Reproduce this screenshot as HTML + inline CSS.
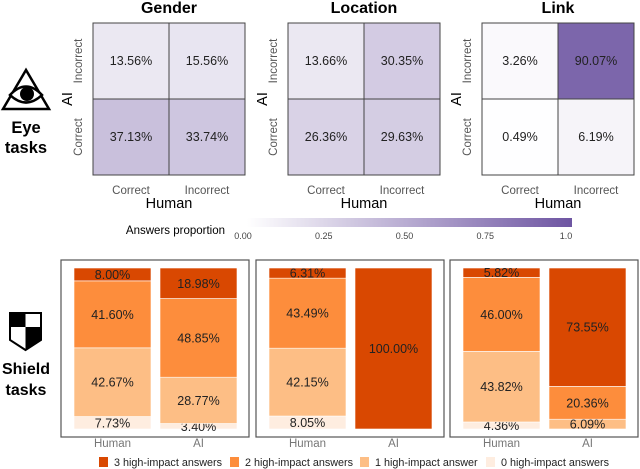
<!DOCTYPE html>
<html><head><meta charset="utf-8"><style>
body{margin:0;background:#fff}
svg{display:block;font-family:"Liberation Sans",sans-serif}
</style></head><body>
<svg id="c" width="640" height="469" viewBox="0 0 640 469">
<g>
<polygon points="26,70 3,109 49,109" fill="none" stroke="#000" stroke-width="2.5"/>
<path d="M10,95 Q26,78 42,95 Q26,110 10,95Z" fill="#fff" stroke="#000" stroke-width="2.5"/>
<circle cx="27" cy="94" r="7" fill="#000"/>
</g>
<text x="26" y="133" text-anchor="middle" font-size="16.5" font-weight="bold"><tspan x="26">Eye</tspan><tspan x="26" dy="20">tasks</tspan></text>
<g>
<path d="M10,313 H41 V340 L25.5,350 L10,340Z" fill="#fff" stroke="#000" stroke-width="2"/>
<rect x="10" y="313" width="15.5" height="14" fill="#000"/>
<path d="M25.5,327 H41 V340 L25.5,350Z" fill="#000"/>
</g>
<text x="26" y="374" text-anchor="middle" font-size="16" font-weight="bold"><tspan x="26">Shield</tspan><tspan x="26" dy="21">tasks</tspan></text>
<g id="heat"></g>
<g id="cbar"></g>
<g id="bars"></g>
<g id="legend"></g>
</svg>
<script>
const heatTitles=["Gender","Location","Link"];
const heatAxisLabels=["Correct","Incorrect"];
// [AI incorrect/human correct, AI incorrect/human incorrect, AI correct/human correct, AI correct/human incorrect]
const heatGender=[13.56,15.56,37.13,33.74];
const heatLocation=[13.66,30.35,26.36,29.63];
const heatLink=[3.26,90.07,0.49,6.19];
const cbarTicks=[0,0.25,0.5,0.75,1.0];
const cbarTickLabels=["0.00","0.25","0.50","0.75","1.0"];
const barGroups=["Human","AI"];
const seriesNames=["3 high-impact answers","2 high-impact answers","1 high-impact answer","0 high-impact answers"];
// bottom-to-top: 0,1,2,3
const genderHuman=[7.73,42.67,41.60,8.00];
const genderAI=[3.40,28.77,48.85,18.98];
const locationHuman=[8.05,42.15,43.49,6.31];
const locationAI=[0,0,0,100.00];
const linkHuman=[4.36,43.82,46.00,5.82];
const linkAI=[0,6.09,20.36,73.55];

const NS="http://www.w3.org/2000/svg";
function mk(p,t,a,txt){const e=document.createElementNS(NS,t);for(const k in a)e.setAttribute(k,a[k]);if(txt!=null)e.textContent=txt;p.appendChild(e);return e;}
function purple(v){const a=[255,255,255],b=[110,85,162];return `rgb(${a.map((x,i)=>Math.round(x+(b[i]-x)*v)).join(",")})`;}

const heat=document.getElementById('heat');
const heatX=[93,288,482],hy=23,cs=76;
[heatGender,heatLocation,heatLink].forEach((d,p)=>{
  const x0=heatX[p];
  const t=mk(heat,'text',{x:x0+cs,y:13,'text-anchor':'middle','font-size':16,'font-weight':'bold'},heatTitles[p]);
  
  
  d.forEach((v,i)=>{
    const cx=x0+(i%2)*cs, cy=hy+Math.floor(i/2)*cs;
    const r=mk(heat,'rect',{x:cx,y:cy,width:cs,height:cs,fill:purple(v/100),stroke:'#444','stroke-width':1});
    
    
    const tt=mk(heat,'text',{x:cx+cs/2,y:cy+cs/2+4,'text-anchor':'middle','font-size':12.5,fill:'#222'},v.toFixed(2)+'%');
    
    
  });
  heatAxisLabels.forEach((l,i)=>{
    const xt=mk(heat,'text',{x:x0+cs/2+i*cs,y:194,'text-anchor':'middle','font-size':11.5,fill:'#555'},l);
    
    
    const yc=hy+cs/2+(1-i)*cs;
    const yt=mk(heat,'text',{x:0,y:0,'text-anchor':'middle','font-size':11.5,fill:'#555',transform:`translate(${x0-11},${yc}) rotate(-90)`},l);
    
    
  });
  const xl=mk(heat,'text',{x:x0+cs,y:208,'text-anchor':'middle','font-size':14.5},'Human');
  
  
  const yl=mk(heat,'text',{x:0,y:0,'text-anchor':'middle','font-size':14.5,transform:`translate(${x0-21},${hy+cs}) rotate(-90)`},'AI');
  
  
});

const cb=document.getElementById('cbar');
const defs=mk(cb,'defs',{});
const lg=mk(defs,'linearGradient',{id:'pg',x1:0,x2:1,y1:0,y2:0});
mk(lg,'stop',{offset:0,'stop-color':purple(0)});mk(lg,'stop',{offset:1,'stop-color':purple(1)});
const cbx0=247,cbx1=572;
const cr=mk(cb,'rect',{x:cbx0,y:218,width:cbx1-cbx0,height:9,fill:'url(#pg)'});


const cl=mk(cb,'text',{x:225,y:234,'text-anchor':'end','font-size':11.5},'Answers proportion');


cbarTicks.forEach((v,i)=>{
  const t=mk(cb,'text',{x:cbx0-4+v*(cbx1-cbx0-2),y:239,'text-anchor':'middle','font-size':9,fill:'#444'},cbarTickLabels[i]);
  
  
});

const colors=['#feede0','#fdbe85','#fd8d3c','#d94801'];
const bars=document.getElementById('bars');
const panels=[[genderHuman,genderAI],[locationHuman,locationAI],[linkHuman,linkAI]];
const panelX=[61,256,450],pw=188,py=260,ph=177;
const barTop=268,barBot=429,bw=77;
function yScale(v){return barBot-(barBot-barTop)*v/100;}
panels.forEach((pd,p)=>{
  const px=panelX[p];
  const pr=mk(bars,'rect',{x:px,y:py,width:pw,height:ph,fill:'none',stroke:'#555','stroke-width':1.2});
  
  
  pd.forEach((d,g)=>{
    const bx=px+13+g*86;
    let acc=0;
    d.forEach((v,s)=>{
      if(v<=0)return;
      const y1=yScale(acc+v),y0=yScale(acc);
      const r=mk(bars,'rect',{x:bx,y:y1,width:bw,height:y0-y1,fill:colors[s],stroke:'#fff','stroke-width':0.6});
      
      
      const t=mk(bars,'text',{x:bx+bw/2,y:(y0+y1)/2+4.5,'text-anchor':'middle','font-size':12.5,fill:'#222'},v.toFixed(2)+'%');
      
      
      acc+=v;
    });
    const lt=mk(bars,'text',{x:bx+bw/2,y:447,'text-anchor':'middle','font-size':11.5,fill:'#777'},barGroups[g]);
    
    
  });
});

const leg=document.getElementById('legend');
const legX=[99,230,360,486];
seriesNames.forEach((n,i)=>{
  const r=mk(leg,'rect',{x:legX[i],y:457,width:9,height:10,fill:colors[3-i]});
  
  
  const t=mk(leg,'text',{x:legX[i]+15,y:466,'font-size':10.8,fill:'#222'},n);
  
  
});
</script>
</body></html>
